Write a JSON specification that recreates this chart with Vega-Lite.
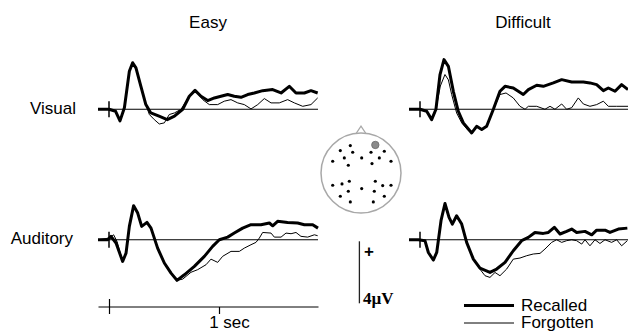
{
  "$schema": "https://vega.github.io/schema/vega-lite/v6.json",
  "padding": {"left": 10, "top": 14, "right": 0, "bottom": 0},
  "background": "white",
  "config": {"view": {"stroke": null}, "font": "Liberation Sans"},
  "columns": 3,
  "spacing": {"row": 29.5, "column": 0},
  "bounds": "flush",
  "resolve": {"scale": {"strokeWidth": "independent"}, "legend": {"strokeWidth": "independent"}},
  "datasets": {
    "erp": [
      {"task":"Easy","mod":"Visual","mem":"Recalled","t":-100,"v":0},
      {"task":"Easy","mod":"Visual","mem":"Recalled","t":0,"v":0},
      {"task":"Easy","mod":"Visual","mem":"Recalled","t":60,"v":-0.13},
      {"task":"Easy","mod":"Visual","mem":"Recalled","t":100,"v":-0.75},
      {"task":"Easy","mod":"Visual","mem":"Recalled","t":140,"v":0.1},
      {"task":"Easy","mod":"Visual","mem":"Recalled","t":185,"v":2.45},
      {"task":"Easy","mod":"Visual","mem":"Recalled","t":215,"v":3.0},
      {"task":"Easy","mod":"Visual","mem":"Recalled","t":245,"v":2.67},
      {"task":"Easy","mod":"Visual","mem":"Recalled","t":290,"v":1.48},
      {"task":"Easy","mod":"Visual","mem":"Recalled","t":335,"v":0.3},
      {"task":"Easy","mod":"Visual","mem":"Recalled","t":380,"v":-0.24},
      {"task":"Easy","mod":"Visual","mem":"Recalled","t":455,"v":-0.45},
      {"task":"Easy","mod":"Visual","mem":"Recalled","t":530,"v":-0.67},
      {"task":"Easy","mod":"Visual","mem":"Recalled","t":595,"v":-0.45},
      {"task":"Easy","mod":"Visual","mem":"Recalled","t":670,"v":0},
      {"task":"Easy","mod":"Visual","mem":"Recalled","t":730,"v":0.84},
      {"task":"Easy","mod":"Visual","mem":"Recalled","t":782,"v":1.22},
      {"task":"Easy","mod":"Visual","mem":"Recalled","t":836,"v":0.84},
      {"task":"Easy","mod":"Visual","mem":"Recalled","t":897,"v":0.56},
      {"task":"Easy","mod":"Visual","mem":"Recalled","t":958,"v":0.73},
      {"task":"Easy","mod":"Visual","mem":"Recalled","t":1018,"v":0.84},
      {"task":"Easy","mod":"Visual","mem":"Recalled","t":1079,"v":0.95},
      {"task":"Easy","mod":"Visual","mem":"Recalled","t":1139,"v":0.84},
      {"task":"Easy","mod":"Visual","mem":"Recalled","t":1200,"v":0.77},
      {"task":"Easy","mod":"Visual","mem":"Recalled","t":1261,"v":0.95},
      {"task":"Easy","mod":"Visual","mem":"Recalled","t":1321,"v":1.05},
      {"task":"Easy","mod":"Visual","mem":"Recalled","t":1397,"v":1.2},
      {"task":"Easy","mod":"Visual","mem":"Recalled","t":1488,"v":1.27},
      {"task":"Easy","mod":"Visual","mem":"Recalled","t":1564,"v":1.05},
      {"task":"Easy","mod":"Visual","mem":"Recalled","t":1639,"v":1.48},
      {"task":"Easy","mod":"Visual","mem":"Recalled","t":1700,"v":1.05},
      {"task":"Easy","mod":"Visual","mem":"Recalled","t":1776,"v":1.05},
      {"task":"Easy","mod":"Visual","mem":"Recalled","t":1836,"v":1.2},
      {"task":"Easy","mod":"Visual","mem":"Recalled","t":1897,"v":1.05},

      {"task":"Easy","mod":"Visual","mem":"Forgotten","t":-100,"v":0},
      {"task":"Easy","mod":"Visual","mem":"Forgotten","t":0,"v":0},
      {"task":"Easy","mod":"Visual","mem":"Forgotten","t":60,"v":-0.13},
      {"task":"Easy","mod":"Visual","mem":"Forgotten","t":100,"v":-0.75},
      {"task":"Easy","mod":"Visual","mem":"Forgotten","t":140,"v":0.1},
      {"task":"Easy","mod":"Visual","mem":"Forgotten","t":185,"v":2.45},
      {"task":"Easy","mod":"Visual","mem":"Forgotten","t":215,"v":3.0},
      {"task":"Easy","mod":"Visual","mem":"Forgotten","t":245,"v":2.67},
      {"task":"Easy","mod":"Visual","mem":"Forgotten","t":290,"v":1.48},
      {"task":"Easy","mod":"Visual","mem":"Forgotten","t":335,"v":0.3},
      {"task":"Easy","mod":"Visual","mem":"Forgotten","t":367,"v":-0.34},
      {"task":"Easy","mod":"Visual","mem":"Forgotten","t":412,"v":-0.67},
      {"task":"Easy","mod":"Visual","mem":"Forgotten","t":457,"v":-0.95},
      {"task":"Easy","mod":"Visual","mem":"Forgotten","t":503,"v":-0.88},
      {"task":"Easy","mod":"Visual","mem":"Forgotten","t":548,"v":-0.34},
      {"task":"Easy","mod":"Visual","mem":"Forgotten","t":594,"v":-0.24},
      {"task":"Easy","mod":"Visual","mem":"Forgotten","t":655,"v":0},
      {"task":"Easy","mod":"Visual","mem":"Forgotten","t":730,"v":0.84},
      {"task":"Easy","mod":"Visual","mem":"Forgotten","t":782,"v":1.22},
      {"task":"Easy","mod":"Visual","mem":"Forgotten","t":852,"v":0.62},
      {"task":"Easy","mod":"Visual","mem":"Forgotten","t":912,"v":0.3},
      {"task":"Easy","mod":"Visual","mem":"Forgotten","t":988,"v":0.3},
      {"task":"Easy","mod":"Visual","mem":"Forgotten","t":1048,"v":0.52},
      {"task":"Easy","mod":"Visual","mem":"Forgotten","t":1109,"v":0.62},
      {"task":"Easy","mod":"Visual","mem":"Forgotten","t":1170,"v":0.41},
      {"task":"Easy","mod":"Visual","mem":"Forgotten","t":1230,"v":0.3},
      {"task":"Easy","mod":"Visual","mem":"Forgotten","t":1291,"v":0.02},
      {"task":"Easy","mod":"Visual","mem":"Forgotten","t":1352,"v":0.3},
      {"task":"Easy","mod":"Visual","mem":"Forgotten","t":1412,"v":0.69},
      {"task":"Easy","mod":"Visual","mem":"Forgotten","t":1473,"v":0.41},
      {"task":"Easy","mod":"Visual","mem":"Forgotten","t":1548,"v":0.41},
      {"task":"Easy","mod":"Visual","mem":"Forgotten","t":1624,"v":0.62},
      {"task":"Easy","mod":"Visual","mem":"Forgotten","t":1685,"v":0.41},
      {"task":"Easy","mod":"Visual","mem":"Forgotten","t":1761,"v":0.19},
      {"task":"Easy","mod":"Visual","mem":"Forgotten","t":1836,"v":0.3},
      {"task":"Easy","mod":"Visual","mem":"Forgotten","t":1897,"v":0.73},

      {"task":"Difficult","mod":"Visual","mem":"Recalled","t":-100,"v":0},
      {"task":"Difficult","mod":"Visual","mem":"Recalled","t":0,"v":0},
      {"task":"Difficult","mod":"Visual","mem":"Recalled","t":61,"v":-0.13},
      {"task":"Difficult","mod":"Visual","mem":"Recalled","t":106,"v":-0.67},
      {"task":"Difficult","mod":"Visual","mem":"Recalled","t":145,"v":0},
      {"task":"Difficult","mod":"Visual","mem":"Recalled","t":182,"v":2.24},
      {"task":"Difficult","mod":"Visual","mem":"Recalled","t":218,"v":3.2},
      {"task":"Difficult","mod":"Visual","mem":"Recalled","t":258,"v":2.77},
      {"task":"Difficult","mod":"Visual","mem":"Recalled","t":303,"v":1.16},
      {"task":"Difficult","mod":"Visual","mem":"Recalled","t":348,"v":-0.13},
      {"task":"Difficult","mod":"Visual","mem":"Recalled","t":394,"v":-0.88},
      {"task":"Difficult","mod":"Visual","mem":"Recalled","t":470,"v":-1.53},
      {"task":"Difficult","mod":"Visual","mem":"Recalled","t":515,"v":-1.1},
      {"task":"Difficult","mod":"Visual","mem":"Recalled","t":561,"v":-1.31},
      {"task":"Difficult","mod":"Visual","mem":"Recalled","t":606,"v":-1.1},
      {"task":"Difficult","mod":"Visual","mem":"Recalled","t":667,"v":0},
      {"task":"Difficult","mod":"Visual","mem":"Recalled","t":727,"v":1.16},
      {"task":"Difficult","mod":"Visual","mem":"Recalled","t":773,"v":1.48},
      {"task":"Difficult","mod":"Visual","mem":"Recalled","t":848,"v":1.37},
      {"task":"Difficult","mod":"Visual","mem":"Recalled","t":939,"v":0.95},
      {"task":"Difficult","mod":"Visual","mem":"Recalled","t":985,"v":1.27},
      {"task":"Difficult","mod":"Visual","mem":"Recalled","t":1061,"v":1.55},
      {"task":"Difficult","mod":"Visual","mem":"Recalled","t":1121,"v":1.48},
      {"task":"Difficult","mod":"Visual","mem":"Recalled","t":1212,"v":1.7},
      {"task":"Difficult","mod":"Visual","mem":"Recalled","t":1288,"v":1.91},
      {"task":"Difficult","mod":"Visual","mem":"Recalled","t":1379,"v":1.76},
      {"task":"Difficult","mod":"Visual","mem":"Recalled","t":1485,"v":1.76},
      {"task":"Difficult","mod":"Visual","mem":"Recalled","t":1545,"v":1.7},
      {"task":"Difficult","mod":"Visual","mem":"Recalled","t":1606,"v":1.59},
      {"task":"Difficult","mod":"Visual","mem":"Recalled","t":1667,"v":1.2},
      {"task":"Difficult","mod":"Visual","mem":"Recalled","t":1712,"v":1.37},
      {"task":"Difficult","mod":"Visual","mem":"Recalled","t":1773,"v":1.16},
      {"task":"Difficult","mod":"Visual","mem":"Recalled","t":1833,"v":1.59},
      {"task":"Difficult","mod":"Visual","mem":"Recalled","t":1891,"v":1.27},

      {"task":"Difficult","mod":"Visual","mem":"Forgotten","t":-100,"v":0},
      {"task":"Difficult","mod":"Visual","mem":"Forgotten","t":0,"v":0},
      {"task":"Difficult","mod":"Visual","mem":"Forgotten","t":61,"v":-0.13},
      {"task":"Difficult","mod":"Visual","mem":"Forgotten","t":106,"v":-0.67},
      {"task":"Difficult","mod":"Visual","mem":"Forgotten","t":145,"v":0},
      {"task":"Difficult","mod":"Visual","mem":"Forgotten","t":185,"v":1.5},
      {"task":"Difficult","mod":"Visual","mem":"Forgotten","t":227,"v":2.24},
      {"task":"Difficult","mod":"Visual","mem":"Forgotten","t":258,"v":1.9},
      {"task":"Difficult","mod":"Visual","mem":"Forgotten","t":288,"v":0.95},
      {"task":"Difficult","mod":"Visual","mem":"Forgotten","t":333,"v":-0.24},
      {"task":"Difficult","mod":"Visual","mem":"Forgotten","t":379,"v":-0.88},
      {"task":"Difficult","mod":"Visual","mem":"Forgotten","t":439,"v":-1.38},
      {"task":"Difficult","mod":"Visual","mem":"Forgotten","t":470,"v":-1.45},
      {"task":"Difficult","mod":"Visual","mem":"Forgotten","t":515,"v":-1.1},
      {"task":"Difficult","mod":"Visual","mem":"Forgotten","t":561,"v":-1.31},
      {"task":"Difficult","mod":"Visual","mem":"Forgotten","t":606,"v":-1.1},
      {"task":"Difficult","mod":"Visual","mem":"Forgotten","t":667,"v":0},
      {"task":"Difficult","mod":"Visual","mem":"Forgotten","t":727,"v":0.95},
      {"task":"Difficult","mod":"Visual","mem":"Forgotten","t":782,"v":1.05},
      {"task":"Difficult","mod":"Visual","mem":"Forgotten","t":848,"v":0.73},
      {"task":"Difficult","mod":"Visual","mem":"Forgotten","t":909,"v":0.19},
      {"task":"Difficult","mod":"Visual","mem":"Forgotten","t":955,"v":0},
      {"task":"Difficult","mod":"Visual","mem":"Forgotten","t":985,"v":0.19},
      {"task":"Difficult","mod":"Visual","mem":"Forgotten","t":1061,"v":0.19},
      {"task":"Difficult","mod":"Visual","mem":"Forgotten","t":1136,"v":0},
      {"task":"Difficult","mod":"Visual","mem":"Forgotten","t":1182,"v":0.19},
      {"task":"Difficult","mod":"Visual","mem":"Forgotten","t":1227,"v":0},
      {"task":"Difficult","mod":"Visual","mem":"Forgotten","t":1288,"v":0.34},
      {"task":"Difficult","mod":"Visual","mem":"Forgotten","t":1333,"v":0},
      {"task":"Difficult","mod":"Visual","mem":"Forgotten","t":1379,"v":0.1},
      {"task":"Difficult","mod":"Visual","mem":"Forgotten","t":1439,"v":0.73},
      {"task":"Difficult","mod":"Visual","mem":"Forgotten","t":1485,"v":0.34},
      {"task":"Difficult","mod":"Visual","mem":"Forgotten","t":1545,"v":0.19},
      {"task":"Difficult","mod":"Visual","mem":"Forgotten","t":1606,"v":0.3},
      {"task":"Difficult","mod":"Visual","mem":"Forgotten","t":1667,"v":0.52},
      {"task":"Difficult","mod":"Visual","mem":"Forgotten","t":1712,"v":0.19},
      {"task":"Difficult","mod":"Visual","mem":"Forgotten","t":1788,"v":0.19},
      {"task":"Difficult","mod":"Visual","mem":"Forgotten","t":1891,"v":0.19},

      {"task":"Easy","mod":"Auditory","mem":"Recalled","t":-100,"v":0},
      {"task":"Easy","mod":"Auditory","mem":"Recalled","t":-12,"v":0},
      {"task":"Easy","mod":"Auditory","mem":"Recalled","t":18,"v":0.22},
      {"task":"Easy","mod":"Auditory","mem":"Recalled","t":64,"v":-0.21},
      {"task":"Easy","mod":"Auditory","mem":"Recalled","t":124,"v":-1.4},
      {"task":"Easy","mod":"Auditory","mem":"Recalled","t":155,"v":-0.86},
      {"task":"Easy","mod":"Auditory","mem":"Recalled","t":185,"v":0.86},
      {"task":"Easy","mod":"Auditory","mem":"Recalled","t":224,"v":2.2},
      {"task":"Easy","mod":"Auditory","mem":"Recalled","t":261,"v":1.72},
      {"task":"Easy","mod":"Auditory","mem":"Recalled","t":297,"v":0.86},
      {"task":"Easy","mod":"Auditory","mem":"Recalled","t":345,"v":1.12},
      {"task":"Easy","mod":"Auditory","mem":"Recalled","t":382,"v":0.75},
      {"task":"Easy","mod":"Auditory","mem":"Recalled","t":442,"v":-0.54},
      {"task":"Easy","mod":"Auditory","mem":"Recalled","t":503,"v":-1.5},
      {"task":"Easy","mod":"Auditory","mem":"Recalled","t":564,"v":-2.15},
      {"task":"Easy","mod":"Auditory","mem":"Recalled","t":618,"v":-2.62},
      {"task":"Easy","mod":"Auditory","mem":"Recalled","t":685,"v":-2.26},
      {"task":"Easy","mod":"Auditory","mem":"Recalled","t":776,"v":-1.72},
      {"task":"Easy","mod":"Auditory","mem":"Recalled","t":867,"v":-1.07},
      {"task":"Easy","mod":"Auditory","mem":"Recalled","t":942,"v":-0.43},
      {"task":"Easy","mod":"Auditory","mem":"Recalled","t":1003,"v":0},
      {"task":"Easy","mod":"Auditory","mem":"Recalled","t":1079,"v":0.17},
      {"task":"Easy","mod":"Auditory","mem":"Recalled","t":1139,"v":0.43},
      {"task":"Easy","mod":"Auditory","mem":"Recalled","t":1215,"v":0.75},
      {"task":"Easy","mod":"Auditory","mem":"Recalled","t":1291,"v":0.97},
      {"task":"Easy","mod":"Auditory","mem":"Recalled","t":1382,"v":0.97},
      {"task":"Easy","mod":"Auditory","mem":"Recalled","t":1458,"v":1.08},
      {"task":"Easy","mod":"Auditory","mem":"Recalled","t":1488,"v":0.9},
      {"task":"Easy","mod":"Auditory","mem":"Recalled","t":1533,"v":1.19},
      {"task":"Easy","mod":"Auditory","mem":"Recalled","t":1624,"v":1.12},
      {"task":"Easy","mod":"Auditory","mem":"Recalled","t":1715,"v":1.08},
      {"task":"Easy","mod":"Auditory","mem":"Recalled","t":1776,"v":0.97},
      {"task":"Easy","mod":"Auditory","mem":"Recalled","t":1852,"v":0.97},
      {"task":"Easy","mod":"Auditory","mem":"Recalled","t":1900,"v":0.75},

      {"task":"Easy","mod":"Auditory","mem":"Forgotten","t":-100,"v":0},
      {"task":"Easy","mod":"Auditory","mem":"Forgotten","t":3,"v":0.11},
      {"task":"Easy","mod":"Auditory","mem":"Forgotten","t":42,"v":0.32},
      {"task":"Easy","mod":"Auditory","mem":"Forgotten","t":73,"v":-0.11},
      {"task":"Easy","mod":"Auditory","mem":"Forgotten","t":124,"v":-1.4},
      {"task":"Easy","mod":"Auditory","mem":"Forgotten","t":155,"v":-0.86},
      {"task":"Easy","mod":"Auditory","mem":"Forgotten","t":185,"v":0.86},
      {"task":"Easy","mod":"Auditory","mem":"Forgotten","t":224,"v":2.2},
      {"task":"Easy","mod":"Auditory","mem":"Forgotten","t":261,"v":1.72},
      {"task":"Easy","mod":"Auditory","mem":"Forgotten","t":297,"v":0.86},
      {"task":"Easy","mod":"Auditory","mem":"Forgotten","t":345,"v":1.12},
      {"task":"Easy","mod":"Auditory","mem":"Forgotten","t":382,"v":0.75},
      {"task":"Easy","mod":"Auditory","mem":"Forgotten","t":442,"v":-0.54},
      {"task":"Easy","mod":"Auditory","mem":"Forgotten","t":503,"v":-1.5},
      {"task":"Easy","mod":"Auditory","mem":"Forgotten","t":564,"v":-2.15},
      {"task":"Easy","mod":"Auditory","mem":"Forgotten","t":630,"v":-2.6},
      {"task":"Easy","mod":"Auditory","mem":"Forgotten","t":670,"v":-2.54},
      {"task":"Easy","mod":"Auditory","mem":"Forgotten","t":745,"v":-2.1},
      {"task":"Easy","mod":"Auditory","mem":"Forgotten","t":806,"v":-1.93},
      {"task":"Easy","mod":"Auditory","mem":"Forgotten","t":882,"v":-1.61},
      {"task":"Easy","mod":"Auditory","mem":"Forgotten","t":927,"v":-1.25},
      {"task":"Easy","mod":"Auditory","mem":"Forgotten","t":988,"v":-1.46},
      {"task":"Easy","mod":"Auditory","mem":"Forgotten","t":1033,"v":-1.07},
      {"task":"Easy","mod":"Auditory","mem":"Forgotten","t":1109,"v":-0.75},
      {"task":"Easy","mod":"Auditory","mem":"Forgotten","t":1185,"v":-0.75},
      {"task":"Easy","mod":"Auditory","mem":"Forgotten","t":1230,"v":-0.54},
      {"task":"Easy","mod":"Auditory","mem":"Forgotten","t":1291,"v":-0.32},
      {"task":"Easy","mod":"Auditory","mem":"Forgotten","t":1336,"v":-0.17},
      {"task":"Easy","mod":"Auditory","mem":"Forgotten","t":1367,"v":0.11},
      {"task":"Easy","mod":"Auditory","mem":"Forgotten","t":1397,"v":0.47},
      {"task":"Easy","mod":"Auditory","mem":"Forgotten","t":1473,"v":0.43},
      {"task":"Easy","mod":"Auditory","mem":"Forgotten","t":1503,"v":0.17},
      {"task":"Easy","mod":"Auditory","mem":"Forgotten","t":1564,"v":0.17},
      {"task":"Easy","mod":"Auditory","mem":"Forgotten","t":1609,"v":0.43},
      {"task":"Easy","mod":"Auditory","mem":"Forgotten","t":1655,"v":0.39},
      {"task":"Easy","mod":"Auditory","mem":"Forgotten","t":1700,"v":0.47},
      {"task":"Easy","mod":"Auditory","mem":"Forgotten","t":1745,"v":0.22},
      {"task":"Easy","mod":"Auditory","mem":"Forgotten","t":1806,"v":0.17},
      {"task":"Easy","mod":"Auditory","mem":"Forgotten","t":1867,"v":0.32},
      {"task":"Easy","mod":"Auditory","mem":"Forgotten","t":1897,"v":0.26},

      {"task":"Difficult","mod":"Auditory","mem":"Recalled","t":-100,"v":0},
      {"task":"Difficult","mod":"Auditory","mem":"Recalled","t":-15,"v":0},
      {"task":"Difficult","mod":"Auditory","mem":"Recalled","t":45,"v":-0.06},
      {"task":"Difficult","mod":"Auditory","mem":"Recalled","t":76,"v":-0.82},
      {"task":"Difficult","mod":"Auditory","mem":"Recalled","t":121,"v":-1.31},
      {"task":"Difficult","mod":"Auditory","mem":"Recalled","t":152,"v":-0.82},
      {"task":"Difficult","mod":"Auditory","mem":"Recalled","t":191,"v":1.23},
      {"task":"Difficult","mod":"Auditory","mem":"Recalled","t":227,"v":2.34},
      {"task":"Difficult","mod":"Auditory","mem":"Recalled","t":264,"v":1.44},
      {"task":"Difficult","mod":"Auditory","mem":"Recalled","t":294,"v":1.01},
      {"task":"Difficult","mod":"Auditory","mem":"Recalled","t":333,"v":1.55},
      {"task":"Difficult","mod":"Auditory","mem":"Recalled","t":379,"v":1.01},
      {"task":"Difficult","mod":"Auditory","mem":"Recalled","t":424,"v":-0.17},
      {"task":"Difficult","mod":"Auditory","mem":"Recalled","t":485,"v":-1.25},
      {"task":"Difficult","mod":"Auditory","mem":"Recalled","t":545,"v":-1.83},
      {"task":"Difficult","mod":"Auditory","mem":"Recalled","t":636,"v":-2.11},
      {"task":"Difficult","mod":"Auditory","mem":"Recalled","t":697,"v":-1.89},
      {"task":"Difficult","mod":"Auditory","mem":"Recalled","t":773,"v":-1.46},
      {"task":"Difficult","mod":"Auditory","mem":"Recalled","t":848,"v":-0.71},
      {"task":"Difficult","mod":"Auditory","mem":"Recalled","t":924,"v":-0.06},
      {"task":"Difficult","mod":"Auditory","mem":"Recalled","t":985,"v":0.15},
      {"task":"Difficult","mod":"Auditory","mem":"Recalled","t":1045,"v":0.47},
      {"task":"Difficult","mod":"Auditory","mem":"Recalled","t":1121,"v":0.41},
      {"task":"Difficult","mod":"Auditory","mem":"Recalled","t":1167,"v":0.47},
      {"task":"Difficult","mod":"Auditory","mem":"Recalled","t":1221,"v":0.8},
      {"task":"Difficult","mod":"Auditory","mem":"Recalled","t":1273,"v":0.37},
      {"task":"Difficult","mod":"Auditory","mem":"Recalled","t":1333,"v":0.54},
      {"task":"Difficult","mod":"Auditory","mem":"Recalled","t":1379,"v":0.69},
      {"task":"Difficult","mod":"Auditory","mem":"Recalled","t":1424,"v":0.47},
      {"task":"Difficult","mod":"Auditory","mem":"Recalled","t":1500,"v":0.54},
      {"task":"Difficult","mod":"Auditory","mem":"Recalled","t":1561,"v":0.32},
      {"task":"Difficult","mod":"Auditory","mem":"Recalled","t":1606,"v":0.62},
      {"task":"Difficult","mod":"Auditory","mem":"Recalled","t":1682,"v":0.62},
      {"task":"Difficult","mod":"Auditory","mem":"Recalled","t":1727,"v":0.47},
      {"task":"Difficult","mod":"Auditory","mem":"Recalled","t":1803,"v":0.69},
      {"task":"Difficult","mod":"Auditory","mem":"Recalled","t":1885,"v":0.75},

      {"task":"Difficult","mod":"Auditory","mem":"Forgotten","t":-100,"v":0},
      {"task":"Difficult","mod":"Auditory","mem":"Forgotten","t":-15,"v":0},
      {"task":"Difficult","mod":"Auditory","mem":"Forgotten","t":45,"v":-0.06},
      {"task":"Difficult","mod":"Auditory","mem":"Forgotten","t":76,"v":-0.82},
      {"task":"Difficult","mod":"Auditory","mem":"Forgotten","t":121,"v":-1.31},
      {"task":"Difficult","mod":"Auditory","mem":"Forgotten","t":152,"v":-0.82},
      {"task":"Difficult","mod":"Auditory","mem":"Forgotten","t":191,"v":1.23},
      {"task":"Difficult","mod":"Auditory","mem":"Forgotten","t":227,"v":2.3},
      {"task":"Difficult","mod":"Auditory","mem":"Forgotten","t":264,"v":1.4},
      {"task":"Difficult","mod":"Auditory","mem":"Forgotten","t":294,"v":1.0},
      {"task":"Difficult","mod":"Auditory","mem":"Forgotten","t":333,"v":1.45},
      {"task":"Difficult","mod":"Auditory","mem":"Forgotten","t":379,"v":1.0},
      {"task":"Difficult","mod":"Auditory","mem":"Forgotten","t":424,"v":-0.17},
      {"task":"Difficult","mod":"Auditory","mem":"Forgotten","t":485,"v":-1.25},
      {"task":"Difficult","mod":"Auditory","mem":"Forgotten","t":545,"v":-1.9},
      {"task":"Difficult","mod":"Auditory","mem":"Forgotten","t":591,"v":-2.32},
      {"task":"Difficult","mod":"Auditory","mem":"Forgotten","t":636,"v":-2.43},
      {"task":"Difficult","mod":"Auditory","mem":"Forgotten","t":682,"v":-2.11},
      {"task":"Difficult","mod":"Auditory","mem":"Forgotten","t":727,"v":-2.32},
      {"task":"Difficult","mod":"Auditory","mem":"Forgotten","t":788,"v":-1.89},
      {"task":"Difficult","mod":"Auditory","mem":"Forgotten","t":848,"v":-1.25},
      {"task":"Difficult","mod":"Auditory","mem":"Forgotten","t":909,"v":-1.18},
      {"task":"Difficult","mod":"Auditory","mem":"Forgotten","t":970,"v":-1.03},
      {"task":"Difficult","mod":"Auditory","mem":"Forgotten","t":1030,"v":-0.92},
      {"task":"Difficult","mod":"Auditory","mem":"Forgotten","t":1091,"v":-0.88},
      {"task":"Difficult","mod":"Auditory","mem":"Forgotten","t":1136,"v":-0.6},
      {"task":"Difficult","mod":"Auditory","mem":"Forgotten","t":1197,"v":-0.17},
      {"task":"Difficult","mod":"Auditory","mem":"Forgotten","t":1242,"v":0},
      {"task":"Difficult","mod":"Auditory","mem":"Forgotten","t":1288,"v":-0.17},
      {"task":"Difficult","mod":"Auditory","mem":"Forgotten","t":1333,"v":-0.06},
      {"task":"Difficult","mod":"Auditory","mem":"Forgotten","t":1379,"v":0},
      {"task":"Difficult","mod":"Auditory","mem":"Forgotten","t":1424,"v":-0.06},
      {"task":"Difficult","mod":"Auditory","mem":"Forgotten","t":1470,"v":-0.28},
      {"task":"Difficult","mod":"Auditory","mem":"Forgotten","t":1500,"v":0},
      {"task":"Difficult","mod":"Auditory","mem":"Forgotten","t":1545,"v":-0.39},
      {"task":"Difficult","mod":"Auditory","mem":"Forgotten","t":1591,"v":0},
      {"task":"Difficult","mod":"Auditory","mem":"Forgotten","t":1636,"v":-0.24},
      {"task":"Difficult","mod":"Auditory","mem":"Forgotten","t":1682,"v":0},
      {"task":"Difficult","mod":"Auditory","mem":"Forgotten","t":1742,"v":-0.17},
      {"task":"Difficult","mod":"Auditory","mem":"Forgotten","t":1788,"v":0},
      {"task":"Difficult","mod":"Auditory","mem":"Forgotten","t":1833,"v":-0.39},
      {"task":"Difficult","mod":"Auditory","mem":"Forgotten","t":1885,"v":-0.06}
    ],
    "electrodes": [
      {"hx":-0.267,"hy":0.684},{"hx":-0.517,"hy":0.559},{"hx":-0.208,"hy":0.517},{"hx":0.25,"hy":0.517},
      {"hx":0.583,"hy":0.542},{"hx":-0.708,"hy":0.292},{"hx":-0.417,"hy":0.375},{"hx":0.017,"hy":0.375},
      {"hx":0.458,"hy":0.375},{"hx":0.75,"hy":0.292},{"hx":-0.317,"hy":0.192},{"hx":0.275,"hy":0.234},
      {"hx":-0.708,"hy":-0.308},{"hx":-0.475,"hy":-0.275},{"hx":-0.292,"hy":-0.208},{"hx":0.017,"hy":-0.39},
      {"hx":0.358,"hy":-0.208},{"hx":0.542,"hy":-0.316},{"hx":0.75,"hy":-0.308},{"hx":-0.517,"hy":-0.583},
      {"hx":-0.317,"hy":-0.458},{"hx":0.333,"hy":-0.458},{"hx":0.583,"hy":-0.583},{"hx":-0.267,"hy":-0.725},
      {"hx":0.308,"hy":-0.725}
    ],
    "selected": [{"hx":0.358,"hy":0.70}],
    "head": [{"hx":0,"hy":0}],
    "nose": [{"hx":-0.12,"hy":0.99},{"hx":0,"hy":1.17},{"hx":0.12,"hy":0.99}],
    "rowlabels": [{"mod":"Visual"},{"mod":"Auditory"}]
  },
  "concat": [
    {
      "width": 220, "height": 100.75,
      "title": {"text": "Easy", "offset": 23, "fontSize": 17, "fontWeight": "normal", "font": "Liberation Sans", "color": "black"},
      "layer": [
        {"data": {"values": [{}]}, "mark": {"type": "rule", "color": "black", "strokeWidth": 1},
         "encoding": {"x": {"datum": -100, "axis": null}, "x2": {"datum": 1900}, "y": {"datum": 0, "axis": null}}},
        {"data": {"values": [{}]}, "mark": {"type": "rule", "color": "black", "strokeWidth": 1.5},
         "encoding": {"x": {"datum": 0, "axis": null}, "y": {"datum": -0.52, "axis": null}, "y2": {"datum": 0.52}}},
        {"data": {"name": "rowlabels"}, "transform": [{"filter": "datum.mod == 'Visual'"}],
         "mark": {"type": "text", "font": "Liberation Sans", "fontSize": 17, "color": "black", "align": "right", "baseline": "middle"},
         "encoding": {"x": {"datum": -300, "axis": null}, "y": {"datum": 0, "axis": null}, "text": {"field": "mod"}}},
        {"data": {"name": "erp"}, "transform": [{"filter": "datum.task == 'Easy' && datum.mod == 'Visual'"}],
         "mark": {"type": "line", "color": "black", "strokeJoin": "round"},
         "encoding": {
           "x": {"field": "t", "type": "quantitative", "scale": {"domain": [-100, 1900], "nice": false, "zero": false}, "axis": null},
           "y": {"field": "v", "type": "quantitative", "scale": {"domain": [-3, 3.5], "nice": false, "zero": false}, "axis": null},
           "strokeWidth": {"field": "mem", "type": "nominal", "scale": {"domain": ["Recalled", "Forgotten"], "range": [3, 1]}, "legend": null}
         }}
      ]
    },
    {
      "width": 91, "height": 100.75,
      "layer": [
        {"data": {"name": "head"}, "mark": {"type": "point", "shape": "circle", "size": 6400, "filled": false, "stroke": "#a8a8a8", "strokeWidth": 1.5, "opacity": 1},
         "encoding": {"x": {"field": "hx", "type": "quantitative", "scale": {"domain": [-1.075, 1.2], "nice": false, "zero": false}, "axis": null},
                      "y": {"field": "hy", "type": "quantitative", "scale": {"domain": [0.43, 2.949], "nice": false, "zero": false}, "axis": null}}},
        {"data": {"name": "nose"}, "mark": {"type": "line", "color": "#a8a8a8", "strokeWidth": 1.2},
         "encoding": {"x": {"field": "hx", "type": "quantitative", "axis": null}, "y": {"field": "hy", "type": "quantitative", "axis": null}}},
        {"data": {"name": "electrodes"}, "mark": {"type": "point", "shape": "circle", "size": 10, "filled": true, "color": "black", "opacity": 1},
         "encoding": {"x": {"field": "hx", "type": "quantitative", "axis": null}, "y": {"field": "hy", "type": "quantitative", "axis": null}}},
        {"data": {"name": "selected"}, "mark": {"type": "point", "shape": "circle", "size": 55, "filled": true, "color": "#8a8a8a", "stroke": "#6a6a6a", "strokeWidth": 0.8, "opacity": 1},
         "encoding": {"x": {"field": "hx", "type": "quantitative", "axis": null}, "y": {"field": "hy", "type": "quantitative", "axis": null}}}
      ]
    },
    {
      "width": 220, "height": 100.75,
      "title": {"text": "Difficult", "offset": 23, "dx": 4, "fontSize": 17, "fontWeight": "normal", "font": "Liberation Sans", "color": "black"},
      "layer": [
        {"data": {"values": [{}]}, "mark": {"type": "rule", "color": "black", "strokeWidth": 1},
         "encoding": {"x": {"datum": -100, "axis": null}, "x2": {"datum": 1900}, "y": {"datum": 0, "axis": null}}},
        {"data": {"values": [{}]}, "mark": {"type": "rule", "color": "black", "strokeWidth": 1.5},
         "encoding": {"x": {"datum": 0, "axis": null}, "y": {"datum": -0.52, "axis": null}, "y2": {"datum": 0.52}}},
        {"data": {"name": "erp"}, "transform": [{"filter": "datum.task == 'Difficult' && datum.mod == 'Visual'"}],
         "mark": {"type": "line", "color": "black", "strokeJoin": "round"},
         "encoding": {
           "x": {"field": "t", "type": "quantitative", "scale": {"domain": [-100, 1900], "nice": false, "zero": false}, "axis": null},
           "y": {"field": "v", "type": "quantitative", "scale": {"domain": [-3, 3.5], "nice": false, "zero": false}, "axis": null},
           "strokeWidth": {"field": "mem", "type": "nominal", "scale": {"domain": ["Recalled", "Forgotten"], "range": [3, 1]}, "legend": null}
         }}
      ]
    },
    {
      "width": 220, "height": 100.75,
      "resolve": {"axis": {"x": "independent"}},
      "layer": [
        {"data": {"values": [{}]}, "mark": {"type": "rule", "color": "black", "strokeWidth": 1},
         "encoding": {"x": {"datum": -100, "axis": {"orient": "bottom", "offset": 20.25, "values": [0], "tickSize": -8, "tickColor": "black", "tickWidth": 1.2, "domain": false, "labels": false, "grid": false, "title": null}},
                      "x2": {"datum": 1900}, "y": {"datum": 0, "axis": null}}},
        {"data": {"values": [{}]}, "mark": {"type": "rule", "color": "black", "strokeWidth": 1.5},
         "encoding": {"x": {"datum": 0, "axis": null}, "y": {"datum": -0.52, "axis": null}, "y2": {"datum": 0.52}}},
        {"data": {"name": "rowlabels"}, "transform": [{"filter": "datum.mod == 'Auditory'"}],
         "mark": {"type": "text", "font": "Liberation Sans", "fontSize": 17, "color": "black", "align": "right", "baseline": "middle"},
         "encoding": {"x": {"datum": -327, "axis": null}, "y": {"datum": 0.05, "axis": null}, "text": {"field": "mod"}}},
        {"data": {"name": "erp"}, "transform": [{"filter": "datum.task == 'Easy' && datum.mod == 'Auditory'"}],
         "mark": {"type": "line", "color": "black", "strokeJoin": "round"},
         "encoding": {
           "x": {"field": "t", "type": "quantitative", "scale": {"domain": [-100, 1900], "nice": false, "zero": false},
                 "axis": {"orient": "bottom", "offset": 20.25, "values": [0, 1000], "tickSize": 7, "tickColor": "black", "tickWidth": 1.2, "domainColor": "black", "domainWidth": 1, "labelExpr": "datum.value == 1000 ? '1 sec' : ''", "labelFont": "Liberation Sans", "labelFontSize": 17, "labelColor": "black", "labelPadding": 1, "labelOffset": 10, "labelBaseline": "top", "labelFlush": false, "labelOverlap": false, "grid": false, "title": null}},
           "y": {"field": "v", "type": "quantitative", "scale": {"domain": [-3, 3.5], "nice": false, "zero": false}, "axis": null},
           "strokeWidth": {"field": "mem", "type": "nominal", "scale": {"domain": ["Recalled", "Forgotten"], "range": [3, 1]}, "legend": null}
         }}
      ]
    },
    {
      "width": 91, "height": 100.75,
      "layer": [
        {"data": {"values": [{}]}, "mark": {"type": "rule", "color": "#222222", "strokeWidth": 1.3},
         "encoding": {"x": {"datum": -0.04, "type": "quantitative", "scale": {"domain": [-1.075, 1.2], "nice": false, "zero": false}, "axis": null},
                      "y": {"datum": -0.1, "type": "quantitative", "scale": {"domain": [-3, 3.5], "nice": false, "zero": false}, "axis": null},
                      "y2": {"datum": -4.1}}},
        {"data": {"values": [{}]}, "mark": {"type": "text", "text": "+", "font": "Liberation Sans", "fontSize": 17, "fontWeight": "bold", "color": "black", "align": "center", "baseline": "middle"},
         "encoding": {"x": {"datum": 0.2, "axis": null}, "y": {"datum": -0.76, "axis": null}}},
        {"data": {"values": [{}]}, "mark": {"type": "text", "text": "4µV", "font": "Liberation Serif", "fontSize": 17, "fontWeight": "bold", "color": "black", "align": "left", "baseline": "middle"},
         "encoding": {"x": {"datum": 0.05, "axis": null}, "y": {"datum": -3.85, "axis": null}}}
      ]
    },
    {
      "width": 220, "height": 100.75,
      "layer": [
        {"data": {"values": [{}]}, "mark": {"type": "rule", "color": "black", "strokeWidth": 1},
         "encoding": {"x": {"datum": -100, "axis": null}, "x2": {"datum": 1900}, "y": {"datum": 0, "axis": null}}},
        {"data": {"values": [{}]}, "mark": {"type": "rule", "color": "black", "strokeWidth": 1.5},
         "encoding": {"x": {"datum": 0, "axis": null}, "y": {"datum": -0.52, "axis": null}, "y2": {"datum": 0.52}}},
        {"data": {"name": "erp"}, "transform": [{"filter": "datum.task == 'Difficult' && datum.mod == 'Auditory'"}],
         "mark": {"type": "line", "color": "black", "strokeJoin": "round"},
         "encoding": {
           "x": {"field": "t", "type": "quantitative", "scale": {"domain": [-100, 1900], "nice": false, "zero": false}, "axis": null},
           "y": {"field": "v", "type": "quantitative", "scale": {"domain": [-3, 3.5], "nice": false, "zero": false}, "axis": null},
           "strokeWidth": {"field": "mem", "type": "nominal", "scale": {"domain": ["Recalled", "Forgotten"], "range": [3, 1]},
             "legend": {"orient": "none", "legendX": 70, "legendY": 110, "title": null, "symbolType": "M-3,0H3", "symbolSize": 278, "symbolStrokeColor": "black", "labelFont": "Liberation Sans", "labelFontSize": 17, "labelColor": "black", "labelOffset": 22, "rowPadding": 0.5, "padding": 0}}
         }}
      ]
    }
  ]
}
